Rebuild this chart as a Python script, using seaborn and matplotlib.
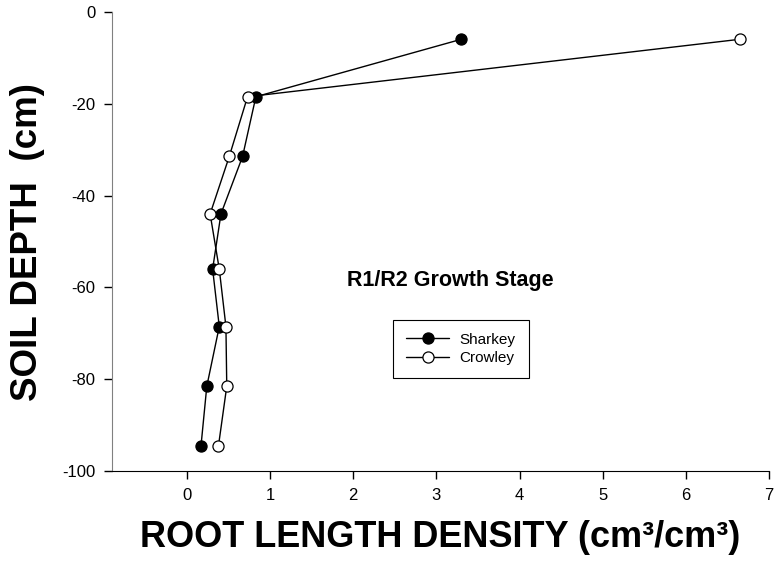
import pandas as pd
import seaborn as sns
import matplotlib.pyplot as plt

# --- data ---
depth = [-6, -18.5, -31.5, -44, -56, -68.5, -81.5, -94.5]
sharkey = [3.30, 0.83, 0.67, 0.41, 0.31, 0.39, 0.24, 0.17]
crowley = [6.65, 0.73, 0.51, 0.28, 0.39, 0.47, 0.48, 0.38]
cultivars = ["Sharkey", "Crowley"]
face = {"Sharkey": "black", "Crowley": "white"}

df = pd.concat([
    pd.DataFrame({"depth": depth, "rld": sharkey, "cultivar": "Sharkey"}),
    pd.DataFrame({"depth": depth, "rld": crowley, "cultivar": "Crowley"}),
])

sns.set_style("ticks")
plt.rcParams['font.family'] = ['Liberation Sans', 'DejaVu Sans']
plt.rcParams['axes.unicode_minus'] = False
plt.rcParams['text.color'] = 'black'
plt.rcParams['axes.labelcolor'] = 'black'

fig = plt.figure(figsize=(7.75, 5.68), dpi=100)
ax = fig.add_axes([0.1445, 0.1702, 0.8478, 0.8092])

for name in cultivars:
    sub = df[df["cultivar"] == name]
    sns.lineplot(data=sub, x="rld", y="depth", sort=False, ax=ax,
                 color="black", lw=1.0, marker="o", markersize=8,
                 markerfacecolor=face[name], markeredgecolor="black",
                 markeredgewidth=0.9, label=name)

ax.set_xlim(-0.9, 7)
ax.set_ylim(-100, 0)
ax.set_xticks(range(0, 8))
ax.set_yticks(range(-100, 1, 20))
ax.tick_params(direction="out", length=6, width=1, labelsize=12,
               colors="black", pad=6)
for s in ["top", "right"]:
    ax.spines[s].set_visible(False)
ax.spines["left"].set_color("#808080")
ax.spines["bottom"].set_color("black")

ax.set_xlabel("ROOT LENGTH DENSITY (cm³/cm³)", fontsize=26, fontweight="bold", labelpad=12)
ax.set_ylabel("SOIL DEPTH  (cm)", fontsize=26.5, fontweight="bold", labelpad=12)

ax.text(1.925, -58.5, "R1/R2 Growth Stage", fontsize=15.5, fontweight="bold",
        ha="left", va="center")

leg = ax.legend(loc="upper left", bbox_to_anchor=(0.428, 0.33), borderaxespad=0,
                fontsize=11, handlelength=2.8, handletextpad=0.7, fancybox=False,
                framealpha=1, edgecolor="black", labelspacing=0.3, borderpad=0.85)
leg.get_frame().set_linewidth(0.8)

fig.savefig("out.png", dpi=100)
